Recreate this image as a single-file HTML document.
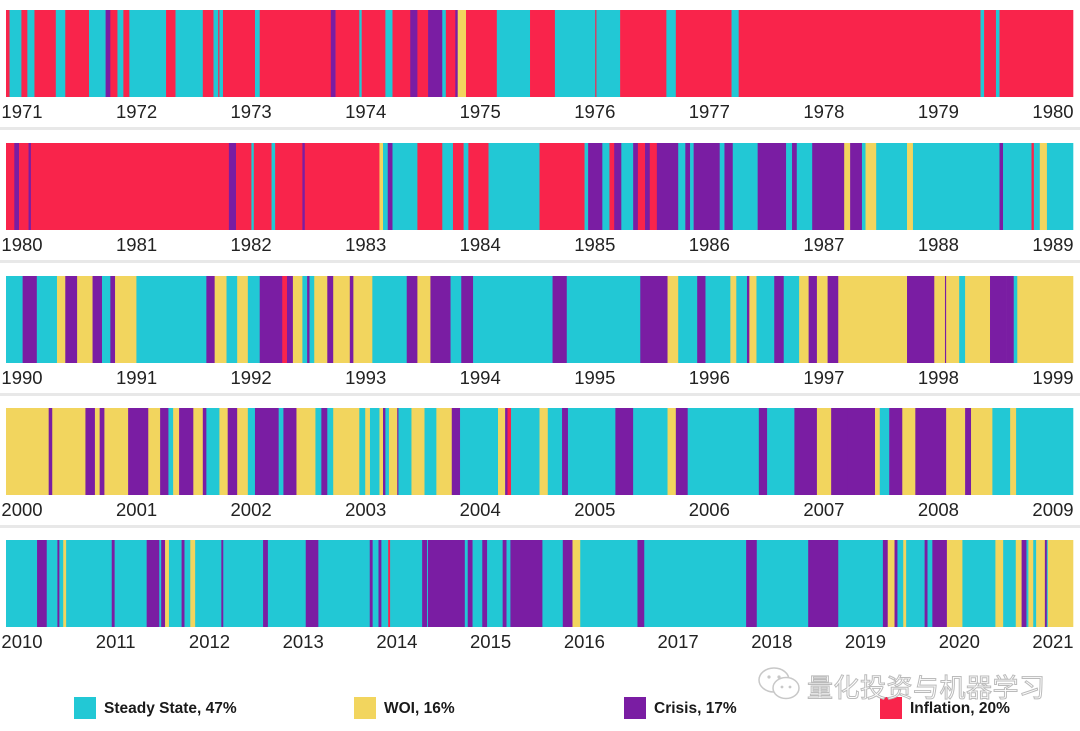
<!DOCTYPE html>
<html><head><meta charset="utf-8">
<style>
html,body{margin:0;padding:0;background:#fff;}
body{width:1080px;height:731px;position:relative;overflow:hidden;font-family:"Liberation Sans","Noto Sans CJK SC",sans-serif;}
svg{position:absolute;left:0;top:0;}
.lbl{font-size:18.5px;fill:#222;}
.leg{font-size:15.5px;font-weight:bold;fill:#1a1a1a;}
</style></head>
<body>
<svg id="chart" width="1080" height="731"></svg>
<script>
// Regime codes: S=Steady State, W=WOI, C=Crisis, I=Inflation
const rowStartYears = [1971, 1980, 1990, 2000, 2010];
const rowSpans = [9, 9, 9, 9, 11];
// Segment starts (years offset from row start) and regimes
const row1Starts = [0,0.03,0.13,0.18,0.24,0.42,0.50,0.70,0.84,0.88,0.94,0.99,1.04,1.35,1.43,1.66,1.75,1.79,1.80,1.83,2.10,2.14,2.74,2.78,2.98,3.00,3.20,3.26,3.41,3.47,3.56,3.68,3.71,3.79,3.81,3.88,4.14,4.42,4.63,4.97,4.98,5.18,5.57,5.65,6.12,6.18,8.22,8.25,8.35,8.38];
const row1Regimes = "ISISISISCISISISISISISICISISICICSICWISISISISISISISI";
const row2Starts = [0,0.07,0.11,0.19,0.21,1.88,1.94,2.07,2.09,2.24,2.27,2.50,2.52,3.15,3.18,3.22,3.26,3.47,3.68,3.77,3.86,3.90,4.07,4.50,4.88,4.91,5.03,5.09,5.13,5.19,5.29,5.33,5.39,5.43,5.49,5.67,5.73,5.77,5.80,6.02,6.06,6.13,6.34,6.58,6.63,6.67,6.80,7.07,7.12,7.22,7.25,7.34,7.60,7.65,8.38,8.41,8.65,8.67,8.72,8.78];
const row2Regimes = "ICICICISISICIWSCSISISISISCSICSCICICSCSCSCSCSCSCWCSWSWSCSISWS";
const row3Starts = [0,0.14,0.26,0.43,0.50,0.60,0.73,0.81,0.88,0.92,1.10,1.69,1.76,1.86,1.95,2.04,2.14,2.33,2.37,2.42,2.50,2.54,2.56,2.60,2.71,2.76,2.90,2.93,3.09,3.38,3.47,3.58,3.75,3.84,3.94,4.61,4.73,5.35,5.58,5.67,5.83,5.90,6.11,6.16,6.25,6.27,6.33,6.48,6.56,6.69,6.77,6.84,6.93,7.02,7.60,7.83,7.92,7.93,8.04,8.09,8.30,8.44,8.50,8.53];
const row3Regimes = "SCSWCWCSCWSCWSWSCICWSCSWCWCWSCWCSCSCSCWSCSWSCWSCSWCWCWCWCWSWCCSW";
const row4Starts = [0,0.36,0.39,0.67,0.75,0.79,0.83,1.03,1.20,1.30,1.37,1.41,1.46,1.58,1.66,1.69,1.80,1.87,1.95,2.04,2.10,2.30,2.34,2.45,2.61,2.66,2.71,2.76,2.98,3.03,3.07,3.15,3.18,3.20,3.23,3.30,3.31,3.42,3.53,3.63,3.76,3.83,4.15,4.21,4.23,4.26,4.50,4.57,4.69,4.74,5.14,5.29,5.58,5.65,5.75,6.35,6.42,6.65,6.84,6.96,7.10,7.33,7.37,7.45,7.56,7.67,7.93,8.09,8.14,8.32,8.47,8.52];
const row4Regimes = "WCWCWCWCWCSWCWCSWCWSCSCWSCSWSWSWCSWCSWSWCSWCISWSCSCSWCSCSCWCCWSCWCWCWSWS";
const row5Starts = [0,0.32,0.42,0.53,0.55,0.59,0.62,1.09,1.12,1.45,1.58,1.60,1.64,1.68,1.81,1.84,1.90,1.95,2.22,2.24,2.65,2.70,3.09,3.22,3.75,3.78,3.84,3.87,3.94,3.96,4.29,4.34,4.35,4.73,4.76,4.81,4.91,4.96,5.12,5.16,5.20,5.53,5.74,5.84,5.92,6.51,6.58,7.63,7.74,8.27,8.58,9.04,9.09,9.16,9.19,9.25,9.28,9.47,9.50,9.55,9.70,9.86,10.20,10.28,10.41,10.47,10.52,10.54,10.59,10.62,10.71,10.73,10.74];
const row5Regimes = "SCSCSWSCSCSCWSCSWSCSCSCSCSCSISCSCSCSCSCSCSCWSCSCSCSCWCSWSCSCWSWSWCSWSWCSW";
const regimeNames = ["Steady State, 47%", "WOI, 16%", "Crisis, 17%", "Inflation, 20%"];
const regimeCodes = ["S", "W", "C", "I"];

const colors = {S:"#22C8D5", W:"#F2D55E", C:"#7A1DA3", I:"#F9244B"};
const rowStarts = [row1Starts,row2Starts,row3Starts,row4Starts,row5Starts];
const rowRegimes = [row1Regimes,row2Regimes,row3Regimes,row4Regimes,row5Regimes];
const rowTops = [10,143,276,408,540];
const barH = 87, barX0 = 6, barX1 = 1073;
const NS = "http://www.w3.org/2000/svg";
const svg = document.getElementById('chart');
function mk(tag, attrs){const e=document.createElementNS(NS,tag);for(const k in attrs)e.setAttribute(k,attrs[k]);return e;}

rowStarts.forEach((starts, r) => {
  const span = rowSpans[r];
  const xs = t => barX0 + (t/span)*(barX1-barX0);
  const g = mk('g',{});
  
  
  svg.appendChild(g);
  starts.forEach((s, i) => {
    const e = i+1 < starts.length ? starts[i+1] : span;
    const code = rowRegimes[r][i] || 'S';
    const x0 = xs(s), x1 = xs(e);
    const rect = mk('rect',{x:x0.toFixed(2), y:rowTops[r], width:Math.max(0.5,x1-x0+0.3).toFixed(2), height:barH, fill:colors[code]});
    
    
    g.appendChild(rect);
  });
  const lx0 = 22, lx1 = 1053;
  for (let k = 0; k <= span; k++) {
    const t = mk('text',{x:(lx0 + k*(lx1-lx0)/span).toFixed(1), y:rowTops[r]+barH+21, 'text-anchor':'middle', class:'lbl'});
    t.textContent = rowStartYears[r] + k;
    
    
    svg.appendChild(t);
  }
  if (r < 4) {
    const sep = mk('rect',{x:0, y:rowTops[r]+barH+30, width:1080, height:3, fill:'#e8e8e8'});
    
    
    svg.appendChild(sep);
  }
});

const legX = [74, 354, 624, 880];
regimeCodes.forEach((c, i) => {
  const sq = mk('rect',{x:legX[i], y:697, width:22, height:22, fill:colors[c]});
  
  
  svg.appendChild(sq);
  const t = mk('text',{x:legX[i]+30, y:713, class:'leg'});
  t.textContent = regimeNames[i];
  
  
  svg.appendChild(t);
});
</script>
<div style="position:absolute;left:756px;top:664px;height:40px;">
  <svg width="48" height="40" style="position:absolute;left:0;top:0">
    <ellipse cx="18" cy="16" rx="15" ry="12" fill="#fff" stroke="#c8c8c8" stroke-width="1.5"/>
    <ellipse cx="30" cy="24" rx="13" ry="10.5" fill="#fff" stroke="#c8c8c8" stroke-width="1.5"/>
    <circle cx="13" cy="13" r="1.6" fill="#c8c8c8"/><circle cx="23" cy="13" r="1.6" fill="#c8c8c8"/>
    <circle cx="26" cy="23" r="1.4" fill="#c8c8c8"/><circle cx="34" cy="23" r="1.4" fill="#c8c8c8"/>
  </svg>
  <div style="position:absolute;left:51px;top:4px;white-space:nowrap;font-family:'Liberation Sans','Noto Sans CJK SC',sans-serif;font-size:26px;color:#fff;-webkit-text-stroke:1px #bbb;letter-spacing:0.5px;">量化投资与机器学习</div>
</div>
</body></html>
